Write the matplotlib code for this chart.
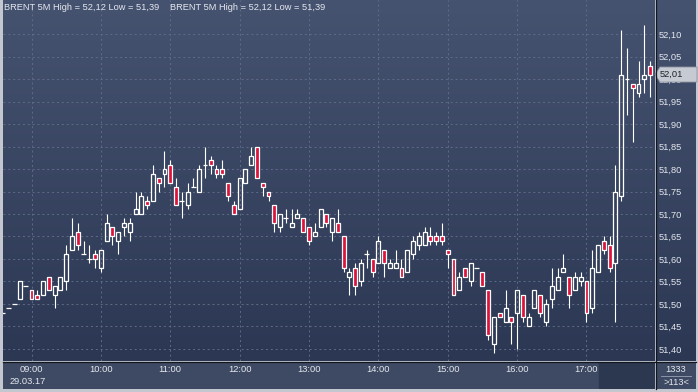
import matplotlib
matplotlib.use("Agg")
import matplotlib.pyplot as plt
import numpy as np
from matplotlib.colors import LinearSegmentedColormap
from matplotlib.patches import Polygon, Rectangle
from matplotlib.lines import Line2D
from matplotlib.transforms import blended_transform_factory

# BRENT 5M bars, 29.03.17, first bar 08:35 (one row per hour)
opens = [51.48, 51.49, 51.50, 51.51, 51.54,
         51.53, 51.52, 51.52, 51.56, 51.52, 51.53, 51.55, 51.62, 51.66, 51.61, 51.60, 51.61,
         51.58, 51.64, 51.67, 51.64, 51.67, 51.66, 51.70, 51.70, 51.73, 51.73, 51.78, 51.79,
         51.81, 51.76, 51.73, 51.72, 51.76, 51.75, 51.81, 51.82, 51.80, 51.80, 51.77, 51.72,
         51.71, 51.77, 51.81, 51.85, 51.77, 51.75, 51.72, 51.67, 51.69, 51.67, 51.69, 51.69,
         51.67, 51.65, 51.67, 51.70, 51.66, 51.68, 51.65, 51.56, 51.58, 51.55, 51.61, 51.60,
         51.59, 51.62, 51.58, 51.58, 51.58, 51.57, 51.61, 51.63, 51.63, 51.65, 51.65, 51.65,
         51.62, 51.60, 51.53, 51.58, 51.55, 51.58, 51.57, 51.53, 51.41, 51.48, 51.46, 51.47,
         51.48, 51.52, 51.45, 51.49, 51.52, 51.46, 51.51, 51.53, 51.57, 51.56, 51.53, 51.55,
         51.55, 51.49, 51.57, 51.64, 51.63, 51.59, 51.74, 52.00, 51.99, 51.97, 52.00, 52.03]
highs = [51.48, 51.49, 51.50, 51.55, 51.54,
         51.53, 51.53, 51.55, 51.56, 51.54, 51.56, 51.63, 51.69, 51.68, 51.64, 51.63, 51.62,
         51.62, 51.70, 51.67, 51.66, 51.69, 51.69, 51.75, 51.75, 51.74, 51.81, 51.78, 51.84,
         51.82, 51.78, 51.75, 51.77, 51.78, 51.81, 51.85, 51.83, 51.81, 51.82, 51.77, 51.73,
         51.78, 51.80, 51.85, 51.85, 51.77, 51.75, 51.72, 51.70, 51.71, 51.71, 51.71, 51.69,
         51.67, 51.68, 51.71, 51.70, 51.69, 51.71, 51.65, 51.58, 51.59, 51.60, 51.62, 51.60,
         51.65, 51.62, 51.60, 51.62, 51.60, 51.62, 51.65, 51.66, 51.67, 51.67, 51.66, 51.68,
         51.62, 51.60, 51.57, 51.58, 51.59, 51.58, 51.57, 51.53, 51.47, 51.48, 51.53, 51.47,
         51.53, 51.52, 51.48, 51.53, 51.52, 51.51, 51.58, 51.58, 51.61, 51.56, 51.57, 51.57,
         51.55, 51.62, 51.63, 51.65, 51.65, 51.81, 52.11, 52.07, 51.99, 52.04, 52.12, 52.04]
lows = [51.48, 51.49, 51.50, 51.51, 51.54,
        51.51, 51.51, 51.52, 51.53, 51.49, 51.53, 51.53, 51.62, 51.62, 51.61, 51.59, 51.58,
        51.57, 51.64, 51.63, 51.61, 51.65, 51.64, 51.70, 51.70, 51.71, 51.73, 51.75, 51.76,
        51.77, 51.72, 51.69, 51.71, 51.76, 51.75, 51.78, 51.79, 51.78, 51.78, 51.73, 51.70,
        51.71, 51.77, 51.81, 51.78, 51.74, 51.73, 51.66, 51.66, 51.68, 51.67, 51.69, 51.66,
        51.63, 51.65, 51.67, 51.67, 51.64, 51.66, 51.57, 51.52, 51.52, 51.54, 51.58, 51.56,
        51.59, 51.56, 51.58, 51.58, 51.56, 51.57, 51.60, 51.62, 51.63, 51.63, 51.63, 51.63,
        51.58, 51.52, 51.53, 51.56, 51.54, 51.58, 51.54, 51.42, 51.39, 51.47, 51.46, 51.41,
        51.40, 51.46, 51.45, 51.49, 51.47, 51.45, 51.49, 51.53, 51.57, 51.49, 51.53, 51.54,
        51.46, 51.48, 51.57, 51.61, 51.57, 51.46, 51.73, 51.92, 51.86, 51.96, 51.97, 51.96]
closes = [51.48, 51.49, 51.50, 51.55, 51.54,
          51.51, 51.51, 51.55, 51.53, 51.54, 51.56, 51.61, 51.65, 51.63, 51.61, 51.60, 51.60,
          51.62, 51.68, 51.65, 51.66, 51.68, 51.68, 51.71, 51.74, 51.72, 51.79, 51.77, 51.80,
          51.77, 51.72, 51.73, 51.75, 51.76, 51.80, 51.81, 51.81, 51.79, 51.79, 51.74, 51.70,
          51.78, 51.80, 51.83, 51.78, 51.76, 51.74, 51.68, 51.70, 51.69, 51.68, 51.70, 51.66,
          51.64, 51.66, 51.71, 51.68, 51.69, 51.66, 51.58, 51.57, 51.54, 51.59, 51.61, 51.57,
          51.64, 51.59, 51.59, 51.59, 51.56, 51.62, 51.64, 51.65, 51.66, 51.64, 51.64, 51.64,
          51.61, 51.52, 51.56, 51.56, 51.59, 51.58, 51.54, 51.43, 51.47, 51.47, 51.49, 51.46,
          51.53, 51.47, 51.47, 51.53, 51.48, 51.50, 51.54, 51.56, 51.58, 51.52, 51.56, 51.56,
          51.48, 51.58, 51.63, 51.62, 51.58, 51.75, 52.01, 52.00, 51.98, 51.99, 52.01, 52.01]

hour_labels = ['09:00', '10:00', '11:00', '12:00', '13:00', '14:00', '15:00', '16:00', '17:00']
price_ticks = [51.40, 51.45, 51.50, 51.55, 51.60, 51.65, 51.70, 51.75,
               51.80, 51.85, 51.90, 51.95, 52.00, 52.05, 52.10]
title = 'BRENT 5M High = 52,12 Low = 51,39'
date_label = '29.03.17'
volume_label = '1333'

W, H = 698, 392
BG_TOP, BG_BOT = '#465370', '#2b3753'
GRID = '#5f6c88'
RED = '#dc143c'
TXT = '#e4e7ee'
FONT = 'Liberation Sans'
FS = 6.7


def frac(x0, y0, x1, y1):
    # pixel box (top-left origin) -> figure fraction rect
    return [x0 / W, 1 - y1 / H, (x1 - x0) / W, (y1 - y0) / H]


def gradient(a):
    cmap = LinearSegmentedColormap.from_list('bg', [BG_TOP, BG_BOT])
    a.imshow(np.linspace(0, 1, 256).reshape(-1, 1), cmap=cmap, aspect='auto',
             extent=[0, 1, 0, 1], transform=a.transAxes, zorder=0)


def bare(a, color=None):
    a.set_xticks([])
    a.set_yticks([])
    for s in a.spines.values():
        s.set_visible(False)
    if color:
        a.set_facecolor(color)


fig = plt.figure(figsize=(W / 100, H / 100), dpi=100, facecolor='#c3c7cf')

# side panels first so the main axes' tick labels sit on top
axr = fig.add_axes(frac(656, 0, 696, 361))
bare(axr)
gradient(axr)
axb = fig.add_axes(frac(3, 362, 655, 389))
bare(axb, '#3e4a63')
axb.add_patch(Rectangle((596 / 652, 0), 1, 1, transform=axb.transAxes, color='#2c3750'))
axc = fig.add_axes(frac(656, 362, 696, 389))
bare(axc, '#3e4a63')

ax = fig.add_axes(frac(3, 0, 655, 361))
bare(ax)
gradient(ax)

# candles
x = np.arange(1, len(opens) + 1)
o, h, l, c = (np.array(v) for v in (opens, highs, lows, closes))
top, bot = np.maximum(o, c), np.minimum(o, c)
ax.vlines(x, top, h, color='white', lw=0.8, zorder=3)
ax.vlines(x, l, bot, color='white', lw=0.8, zorder=3)
up, down, flat = c > o, c < o, c == o
ax.bar(x[up], (c - o)[up], 0.68, bottom=o[up], facecolor='none',
       edgecolor='white', lw=0.9, zorder=3)
ax.bar(x[down], (o - c)[down], 0.68, bottom=c[down], facecolor=RED,
       edgecolor='white', lw=0.9, zorder=3)
ax.hlines(c[flat], x[flat] - 0.42, x[flat] + 0.42, color='white', lw=0.9, zorder=3)

YMIN, YMAX = 51.3733, 52.1756
ax.set_xlim(1.07, 113.85)
ax.set_ylim(YMIN, YMAX)

# hourly ticks: 09:00 is the 6th bar, then every 12 bars
ax.set_xticks(6 + 12 * np.arange(len(hour_labels)), hour_labels)
ax.yaxis.tick_right()
ax.set_yticks(price_ticks, [f'{p:.2f}'.replace('.', ',') for p in price_ticks])
ax.tick_params(length=0, labelsize=FS, labelcolor=TXT)
ax.tick_params(axis='x', pad=3)
ax.tick_params(axis='y', pad=2.3)
for t in ax.get_xticklabels() + ax.get_yticklabels():
    t.set_fontfamily(FONT)
ax.grid(True, color=GRID, ls=(0, (2, 3)), lw=0.7, zorder=1)

# last price marker
last = closes[-1]
trans = blended_transform_factory(ax.transAxes, ax.transData)
hh = 7.5 / (361 / (YMAX - YMIN))


def axx(px):
    return (px - 3) / 652


ax.add_patch(Polygon([(axx(655), last), (axx(660), last + hh), (axx(697), last + hh),
                      (axx(697), last - hh), (axx(660), last - hh)], closed=True,
                     transform=trans, clip_on=False, fc='#c6cad2', ec='#8d94a1',
                     lw=0.6, zorder=10))
ax.text(axx(660), last, f'{last:.2f}'.replace('.', ','), transform=trans, ha='left',
        va='center', fontsize=FS, family=FONT, color='#1e2228', clip_on=False, zorder=11)

# texts
for px in (4, 170):
    fig.text(px / W, 1 - 8 / H, title, fontsize=FS, family=FONT, color=TXT, va='center')
fig.text(10 / W, 1 - 381 / H, date_label, fontsize=FS, family=FONT, color=TXT, va='center')
axc.text(0.5, 0.74, volume_label, ha='center', va='center', fontsize=FS, family=FONT,
         color=TXT, transform=axc.transAxes)
axc.text(0.5, 0.24, f'>{len(opens)}<', ha='center', va='center', fontsize=FS,
         family=FONT, color=TXT, transform=axc.transAxes)
axc.plot([0.12, 0.88], [0.5, 0.5], color='#9aa2b2', lw=0.6, transform=axc.transAxes)

# separators
fig.add_artist(Line2D([655.5 / W, 655.5 / W], [1 - 389 / H, 1], color='#12171f', lw=0.9))
fig.add_artist(Line2D([3 / W, 696 / W], [1 - 361.5 / H, 1 - 361.5 / H], color='#12171f', lw=0.9))

fig.savefig('out.png', dpi=100, facecolor=fig.get_facecolor())
